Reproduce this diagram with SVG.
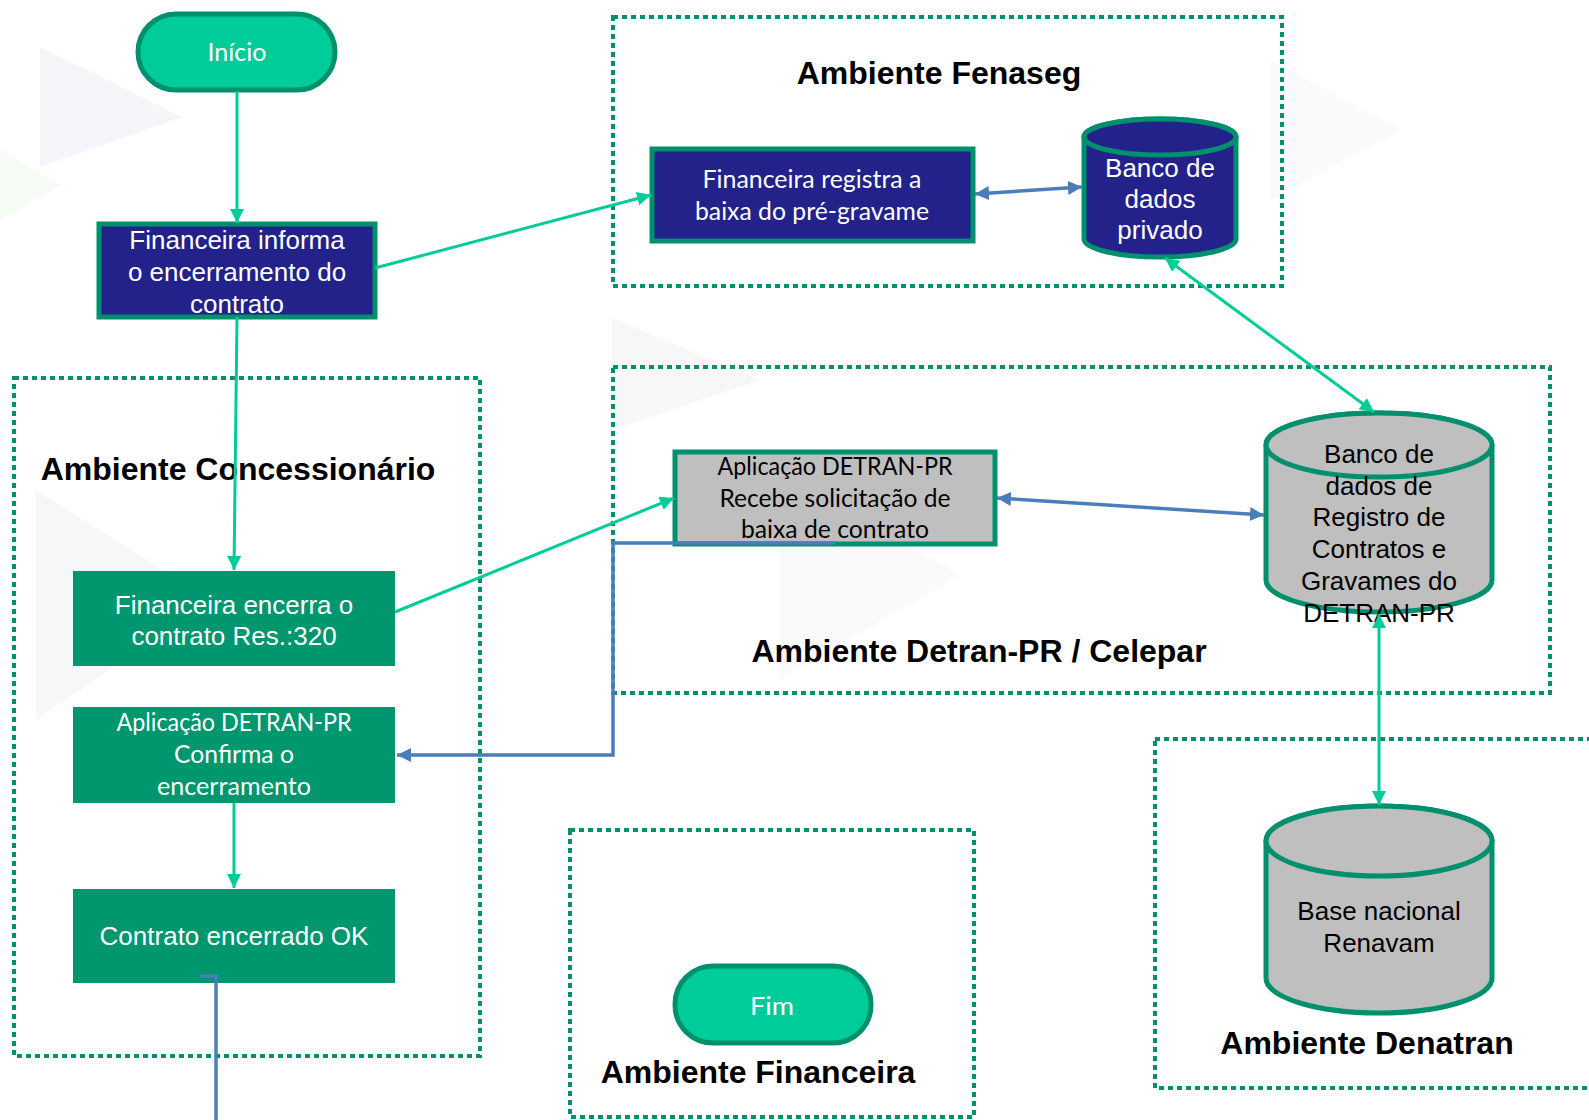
<svg xmlns="http://www.w3.org/2000/svg" width="1589" height="1120" viewBox="0 0 1589 1120">
<style>
.env{fill:none;stroke:#00906E;stroke-width:4;stroke-dasharray:5 4}
.title{font-family:"Liberation Sans",Arial,sans-serif;font-weight:bold;font-size:32px;fill:#000;text-anchor:middle}
.ar{font-family:"Liberation Sans",Arial,sans-serif;font-size:26px;text-anchor:middle}
.cal{font-family:Lato,"Open Sans",sans-serif;font-size:25px;text-anchor:middle}
.w{fill:#fff}
.k{fill:#000}
.navy{fill:#22228A;stroke:#00906E;stroke-width:5}
.gray{fill:#BFBFBF;stroke:#00906E;stroke-width:5}
.mid{fill:#00966E}
.term{fill:#00CC99;stroke:#00906E;stroke-width:5}
.gl{fill:none;stroke:#00CC99;stroke-width:3}
.bl{fill:none;stroke:#4A7EBB;stroke-width:3.5}
.bg{stroke:none}
</style>
<defs>
<marker id="ag" markerUnits="userSpaceOnUse" markerWidth="16" markerHeight="16" refX="14" refY="7" orient="auto-start-reverse"><path d="M0,0 L14,7 L0,14 z" fill="#00CC99"/></marker>
<marker id="ab" markerUnits="userSpaceOnUse" markerWidth="16" markerHeight="16" refX="14" refY="7" orient="auto-start-reverse"><path d="M0,0 L14,7 L0,14 z" fill="#4A7EBB"/></marker>
</defs>
<rect width="1589" height="1120" fill="#fff"/>
<g id="background" opacity="0.3">
<polygon class="bg" points="40,47 182,117 40,167" fill="#DCE3EE"/>
<polygon class="bg" points="36,490 210,600 36,720" fill="#E2E4E8"/>
<polygon class="bg" points="612,318 760,380 612,430" fill="#E4E4E4"/>
<polygon class="bg" points="780,470 960,575 780,680" fill="#F0F0F0"/>
<polygon class="bg" points="0,150 60,185 0,220" fill="#E8F2E0"/>
<polygon class="bg" points="1270,60 1400,130 1270,200" fill="#F0F0F0"/>
</g>
<g id="env-fenaseg"><rect class="env" x="613" y="17" width="669" height="269"/><text class="title" x="939" y="84">Ambiente Fenaseg</text></g>
<g id="env-detran"><rect class="env" x="613" y="367" width="937" height="326"/><text class="title" x="979" y="662">Ambiente Detran-PR / Celepar</text></g>
<g id="env-concessionario"><rect class="env" x="14" y="378" width="466" height="678"/><text class="title" x="238" y="480">Ambiente Concessionário</text></g>
<g id="env-financeira"><rect class="env" x="570" y="830" width="404" height="287"/><text class="title" x="758" y="1083">Ambiente Financeira</text></g>
<g id="env-denatran"><rect class="env" x="1155" y="739" width="460" height="349"/><text class="title" x="1367" y="1054">Ambiente Denatran</text></g>

<g id="inicio"><rect class="term" x="138" y="14" width="197" height="76" rx="38"/><text class="cal w" x="237" y="61" textLength="59" lengthAdjust="spacingAndGlyphs">Início</text></g>
<g id="fin-informa"><rect class="navy" x="99" y="224" width="276" height="93"/>
<text class="ar w" x="237" y="249">Financeira informa</text><text class="ar w" x="237" y="281">o encerramento do</text><text class="ar w" x="237" y="313">contrato</text></g>
<g id="fin-registra"><rect class="navy" x="652" y="149" width="321" height="92"/>
<text class="cal w" x="812" y="188" textLength="219" lengthAdjust="spacingAndGlyphs">Financeira registra a</text><text class="cal w" x="812" y="220" textLength="234" lengthAdjust="spacingAndGlyphs">baixa do pré-gravame</text></g>
<g id="banco-privado"><path class="navy" d="M1084,137 V239 A76,18 0 0 0 1236,239 V137 A76,18 0 0 0 1084,137 Z"/><ellipse class="navy" cx="1160" cy="137" rx="76" ry="18"/>
<text class="ar w" x="1160" y="177">Banco de</text><text class="ar w" x="1160" y="208">dados</text><text class="ar w" x="1160" y="239">privado</text></g>
<g id="app-recebe"><rect class="gray" x="675" y="452" width="320" height="92"/>
<text class="cal k" x="835" y="475" textLength="235" lengthAdjust="spacingAndGlyphs">Aplicação DETRAN-PR</text><text class="cal k" x="835" y="507" textLength="231" lengthAdjust="spacingAndGlyphs">Recebe solicitação de</text><text class="cal k" x="835" y="538" textLength="188" lengthAdjust="spacingAndGlyphs">baixa de contrato</text></g>
<g id="banco-registro"><path class="gray" d="M1266,445 V580 A113,32 0 0 0 1492,580 V445 A113,32 0 0 0 1266,445 Z"/><ellipse class="gray" cx="1379" cy="445" rx="113" ry="32"/>
<text class="ar k" x="1379" y="463">Banco de</text><text class="ar k" x="1379" y="495">dados de</text><text class="ar k" x="1379" y="526">Registro de</text><text class="ar k" x="1379" y="558">Contratos e</text><text class="ar k" x="1379" y="590">Gravames do</text><text class="ar k" x="1379" y="622">DETRAN-PR</text></g>
<g id="fin-encerra"><rect class="mid" x="73" y="571" width="322" height="95"/>
<text class="ar w" x="234" y="614">Financeira encerra o</text><text class="ar w" x="234" y="645">contrato Res.:320</text></g>
<g id="app-confirma"><rect class="mid" x="73" y="707" width="322" height="96"/>
<text class="cal w" x="234" y="731" textLength="235" lengthAdjust="spacingAndGlyphs">Aplicação DETRAN-PR</text><text class="cal w" x="234" y="763" textLength="120" lengthAdjust="spacingAndGlyphs">Confirma o</text><text class="cal w" x="234" y="795" textLength="154" lengthAdjust="spacingAndGlyphs">encerramento</text></g>
<g id="contrato-ok"><rect class="mid" x="73" y="889" width="322" height="94"/><text class="ar w" x="234" y="945">Contrato encerrado OK</text></g>
<g id="renavam"><path class="gray" d="M1266,841 V978 A113,35 0 0 0 1492,978 V841 A113,35 0 0 0 1266,841 Z"/><ellipse class="gray" cx="1379" cy="841" rx="113" ry="35"/>
<text class="ar k" x="1379" y="920">Base nacional</text><text class="ar k" x="1379" y="952">Renavam</text></g>
<g id="fim"><rect class="term" x="675" y="966" width="196" height="77" rx="38"/><text class="cal w" x="772" y="1015" textLength="44" lengthAdjust="spacingAndGlyphs">Fim</text></g>

<g id="connectors">
<line class="gl" x1="237" y1="91" x2="237" y2="223" marker-end="url(#ag)"/>
<line class="gl" x1="375" y1="268" x2="651" y2="195" marker-end="url(#ag)"/>
<line class="bl" x1="975" y1="194" x2="1082" y2="187" marker-start="url(#ab)" marker-end="url(#ab)"/>
<line class="gl" x1="1165" y1="258" x2="1374" y2="412" marker-start="url(#ag)" marker-end="url(#ag)"/>
<line class="gl" x1="237" y1="317" x2="234" y2="570" marker-end="url(#ag)"/>
<line class="gl" x1="395" y1="612" x2="674" y2="498" marker-end="url(#ag)"/>
<line class="bl" x1="997" y1="498" x2="1264" y2="515" marker-start="url(#ab)" marker-end="url(#ab)"/>
<polyline class="bl" points="835,543 613,543 613,755 397,755" marker-end="url(#ab)"/>
<line class="gl" x1="1379" y1="614" x2="1379" y2="805" marker-start="url(#ag)" marker-end="url(#ag)"/>
<line class="gl" x1="234" y1="803" x2="234" y2="888" marker-end="url(#ag)"/>
<polyline class="bl" points="200,976 216,976 216,1120"/>
</g>
</svg>
